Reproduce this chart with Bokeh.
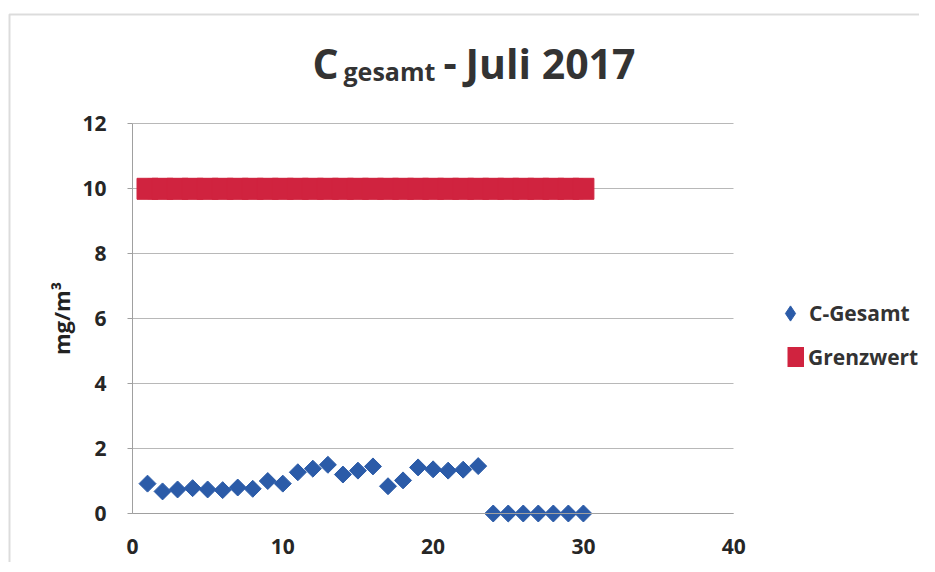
from bokeh.plotting import figure
from bokeh.models import (Label, Legend, LegendItem, FixedTicker, Range1d,
                          BoxAnnotation, ColumnDataSource)
from bokeh.embed import file_html
from bokeh.resources import INLINE

# ---- data ----
days = list(range(1, 31))
c_gesamt = [0.92, 0.68, 0.74, 0.78, 0.74, 0.72, 0.80, 0.76, 1.00, 0.92,
            1.27, 1.38, 1.50, 1.20, 1.32, 1.45, 0.84, 1.02, 1.42, 1.36,
            1.32, 1.35, 1.46, 0.0, 0.0, 0.0, 0.0, 0.0, 0.0, 0.0]
grenzwert = [10] * 30
x_ticks = [0, 10, 20, 30, 40]
y_ticks = [0, 2, 4, 6, 8, 10, 12]

FONT = "Open Sans"
TXT = "#333333"
BLUE = "#2B5BA8"
RED = "#D0233F"

W, H = 919, 562
X0PX, Y0PX = 132, 513          # pixel position of the data origin
SX, SY = 15.03, 32.47          # pixels per unit


def dx(px):
    return (px - X0PX) / SX


def dy(py):
    return (Y0PX - py) / SY


p = figure(width=W, height=H, output_backend="svg", toolbar_location=None,
           x_range=Range1d(dx(0), dx(W)), y_range=Range1d(dy(H), dy(0)),
           min_border_left=0, min_border_right=0,
           min_border_top=0, min_border_bottom=0)
p.outline_line_color = None
p.background_fill_color = "white"
p.border_fill_color = "white"

p.xgrid.grid_line_color = None
p.ygrid.grid_line_color = "#b8b8b8"
p.ygrid.grid_line_width = 1
p.ygrid.ticker = FixedTicker(ticks=y_ticks)
p.ygrid.cross_bounds = (0, 40)

p.xaxis.ticker = FixedTicker(ticks=x_ticks)
p.yaxis.ticker = FixedTicker(ticks=y_ticks)
p.xaxis.bounds = (0, 40)
p.yaxis.bounds = (0, 12)
p.xaxis.fixed_location = 0
p.yaxis.fixed_location = 0
for ax in (p.xaxis, p.yaxis):
    ax.axis_line_color = "#a0a0a0"
    ax.major_tick_line_color = "#a0a0a0"
    ax.minor_tick_line_color = None
    ax.major_label_text_font = FONT
    ax.major_label_text_font_size = "21px"
    ax.major_label_text_font_style = "bold"
    ax.major_label_text_color = "#262626"
p.xaxis.major_tick_out = 0
p.xaxis.major_tick_in = 0
p.xaxis.major_label_standoff = 25
p.yaxis.major_tick_out = 5
p.yaxis.major_tick_in = 0
p.yaxis.major_label_standoff = 21
p.yaxis.axis_label = "mg/m³"
p.yaxis.axis_label_text_font = FONT
p.yaxis.axis_label_text_font_size = "22px"
p.yaxis.axis_label_text_font_style = "bold"
p.yaxis.axis_label_text_color = "#222222"
p.yaxis.axis_label_standoff = 3

src_g = ColumnDataSource(dict(x=days, y=grenzwert))
r_gl = p.line("x", "y", source=src_g, line_color=RED, line_width=21, line_cap="butt")
p.scatter("x", "y", source=src_g, marker="square", size=21,
          fill_color=RED, line_color=RED)

src_c = ColumnDataSource(dict(x=days, y=c_gesamt))
p.scatter("x", "y", source=src_c, marker="square", size=12, angle=0.785398,
          fill_color=BLUE, line_color=BLUE)
# legend key for the C-Gesamt series (diamond shape; no plotted points)
key_src = ColumnDataSource(dict(x=[float("nan")], y=[float("nan")]))
r_key = p.scatter("x", "y", source=key_src, marker="diamond", size=12,
                  fill_color=BLUE, line_color=BLUE)


def make_legend(label, renderer, loc, gw, gh, standoff):
    lg = Legend(items=[LegendItem(label=label, renderers=[renderer])],
                location=loc, orientation="vertical")
    lg.border_line_color = None
    lg.background_fill_alpha = 0
    lg.padding = 0
    lg.margin = 0
    lg.glyph_width = gw
    lg.glyph_height = gh
    lg.label_standoff = standoff
    lg.label_text_font = FONT
    lg.label_text_font_size = "21px"
    lg.label_text_font_style = "bold"
    lg.label_text_color = TXT
    lg.label_height = 20
    return lg


# C-Gesamt: marker legend glyph is 0.4 * glyph box
p.add_layout(make_legend("C-Gesamt", r_key, (771, H - 332), 38, 38, 0), "center")
# Grenzwert: thick line glyph -> red block
p.add_layout(make_legend("Grenzwert", r_gl, (787, H - 371), 17, 20, 4), "center")

# Title pieces (baseline compensation for large vs small font)
title_parts = [("C", 312, 62, "41px"), ("gesamt", 343, 70, "25px"),
               ("-", 443, 62, "41px"), ("Juli 2017", 465, 62, "41px")]
for txt, px, py, fs in title_parts:
    p.add_layout(Label(x=dx(px), y=dy(py), text=txt,
                       text_font=FONT, text_font_size=fs, text_font_style="bold",
                       text_color=TXT, text_baseline="alphabetic"))

# outer chart frame (right/bottom edges fall outside the canvas)
p.add_layout(BoxAnnotation(left=dx(9), right=dx(W + 40), bottom=dy(H + 40), top=dy(14),
                           fill_alpha=0, line_color="#8a8a8a", line_width=2,
                           level="underlay"))

open("out.html", "w").write(file_html(p, INLINE))
